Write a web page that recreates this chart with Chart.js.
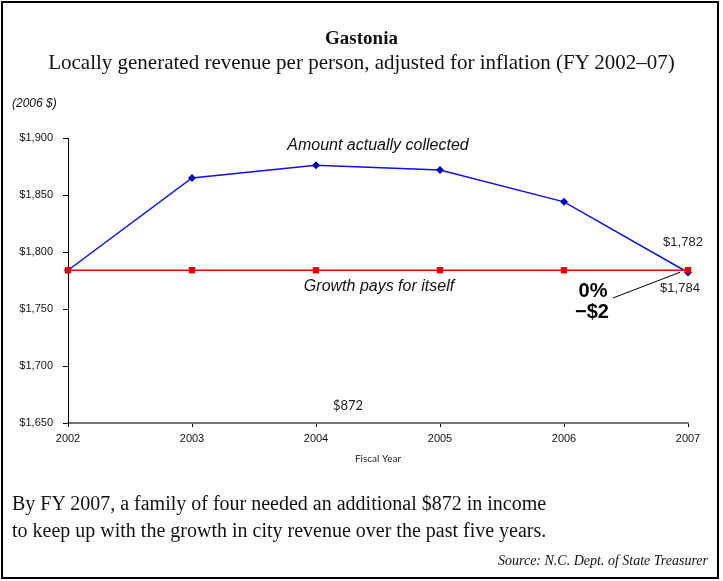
<!DOCTYPE html>
<html>
<head>
<meta charset="utf-8">
<script src="https://cdn.jsdelivr.net/npm/chart.js@4"></script>
<style>
    body { margin: 0; background: #fff; }
    #wrap { position: relative; width: 723px; height: 581px; overflow: hidden; }
    #frame { position: absolute; left: 1px; top: 1px; width: 714px; height: 574px; border: 2px solid #000; }
    #chart { position: absolute; left: 0; top: 0; }
    .txt { position: absolute; color: #111; white-space: nowrap; }
</style>
</head>
<body>
<div id="wrap">
    <div id="frame"></div>
    <canvas id="chart" width="723" height="581"></canvas>
    <div class="txt" style="left:0; width:723px; text-align:center; top:27px; font: bold 19px 'Liberation Serif', serif;">Gastonia</div>
    <div class="txt" style="left:0; width:723px; text-align:center; top:50px; font: 21px 'Liberation Serif', serif;">Locally generated revenue per person, adjusted for inflation (FY 2002–07)</div>
    <div class="txt" style="left:12px; top:96px; font: italic 12px 'Liberation Sans', sans-serif;">(2006 $)</div>
    <div class="txt" style="left:12px; top:492px; font: 20px 'Liberation Serif', serif;">By FY 2007, a family of four needed an additional $872 in income</div>
    <div class="txt" style="left:12px; top:519px; font: 20px 'Liberation Serif', serif;">to keep up with the growth in city revenue over the past five years.</div>
    <div class="txt" style="right:15px; top:553px; font: italic 14px 'Liberation Serif', serif;">Source: N.C. Dept. of State Treasurer</div>
</div>
<script>
// Gastonia revenue per person chart
const years = ['2002', '2003', '2004', '2005', '2006', '2007'];
const collected = [1784, 1865, 1876, 1872, 1844, 1782];
const growthPays = [1784, 1784, 1784, 1784, 1784, 1784];
const yTicks = [1650, 1700, 1750, 1800, 1850, 1900];

function money(v) {
    return '$' + v.toLocaleString('en-US');
}

// annotations drawn against the chart scales
const notesPlugin = {
    id: 'notes',
    afterDraw(chart) {
        const ctx = chart.ctx;
        const x = chart.scales.x;
        const y = chart.scales.y;
        const last = years.length - 1;
        ctx.save();
        ctx.fillStyle = '#111';
        ctx.textAlign = 'center';
        ctx.textBaseline = 'middle';

        ctx.font = 'italic 16px "Liberation Sans", sans-serif';
        ctx.fillText('Amount actually collected', 378, y.getPixelForValue(1893));
        ctx.fillText('Growth pays for itself', 379, y.getPixelForValue(1770));

        ctx.font = '13px "Liberation Sans", sans-serif';
        ctx.fillStyle = '#222';
        ctx.fillText(money(collected[last]), 683, y.getPixelForValue(1808));
        ctx.fillText(money(growthPays[last]), 680, y.getPixelForValue(1768));

        ctx.font = '13px Lato, sans-serif';
        ctx.fillText('$872', 348, y.getPixelForValue(1665));

        ctx.font = '10px Lato, sans-serif';
        ctx.fillText('Fiscal Year', 378, 459);

        ctx.font = 'bold 20px "Liberation Sans", sans-serif';
        ctx.fillStyle = '#000';
        ctx.fillText('0%', 593, 291);
        ctx.fillText('\u2212$2', 592, 312);

        ctx.strokeStyle = '#000';
        ctx.lineWidth = 1;
        ctx.beginPath();
        ctx.moveTo(613, 298);
        ctx.lineTo(x.getPixelForValue(last) - 8, y.getPixelForValue(1784) + 2);
        ctx.stroke();
        ctx.restore();
    }
};

new Chart(document.getElementById('chart'), {
    type: 'line',
    data: {
        labels: years,
        datasets: [{
            label: 'Growth pays for itself',
            data: growthPays,
            borderColor: '#e00000',
            backgroundColor: '#e00000',
            borderWidth: 1.5,
            pointStyle: 'rect',
            pointRadius: 4.5,
            pointBorderWidth: 0,
            order: 0
        }, {
            label: 'Amount actually collected',
            data: collected,
            borderColor: '#1010e0',
            backgroundColor: '#0000c0',
            borderWidth: 1.5,
            pointStyle: 'rectRot',
            pointRadius: 4,
            pointBorderWidth: 0,
            order: 1
        }]
    },
    options: {
        responsive: false,
        animation: false,
        clip: false,
        layout: { padding: { left: 0, top: 138, right: 35, bottom: 0 } },
        plugins: {
            legend: { display: false },
            tooltip: { enabled: false },
            title: { display: false }
        },
        scales: {
            x: {
                offset: false,
                afterFit: s => { s.height = 158; },
                grid: { display: true, drawOnChartArea: false, drawTicks: true, tickLength: 4, color: '#000' },
                border: { color: '#777', width: 2 },
                ticks: { color: '#111', font: { family: 'Liberation Sans', size: 11 }, padding: 5, maxRotation: 0 }
            },
            y: {
                min: 1650,
                max: 1900,
                afterFit: s => { s.width = 68; },
                afterBuildTicks: s => { s.ticks = yTicks.map(v => ({ value: v })); },
                grid: { display: true, drawOnChartArea: false, drawTicks: true, tickLength: 5, color: '#000' },
                border: { color: '#000', width: 1 },
                ticks: {
                    color: '#111',
                    font: { family: 'Liberation Sans', size: 11 },
                    padding: 10,
                    callback: v => money(v)
                }
            }
        }
    },
    plugins: [notesPlugin]
});
</script>
</body>
</html>
